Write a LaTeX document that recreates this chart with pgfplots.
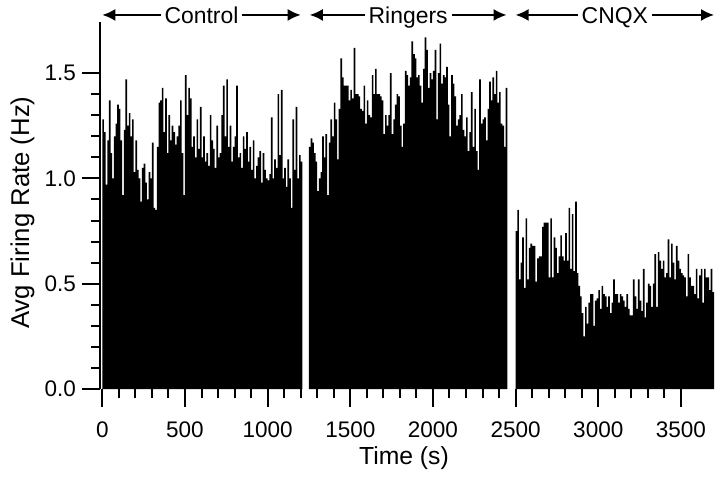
\documentclass[border=0pt]{standalone}
\usepackage{pgfplots}
\pgfplotsset{compat=1.18}
\usepackage{pgfplotstable}
\usepackage{fontspec}
\setmainfont{Liberation Sans}
\usetikzlibrary{arrows.meta}

% average firing rate, 10 s bins
\pgfplotstableread[row sep=\\]{rate\\
1.28\\ 1.22\\ 0.97\\ 1.18\\ 1.37\\ 1.12\\ 1.00\\ 1.20\\ 1.26\\ 1.35\\
1.33\\ 1.18\\ 0.92\\ 1.23\\ 1.47\\ 1.25\\ 1.31\\ 1.20\\ 1.28\\ 1.03\\
1.18\\ 1.04\\ 1.00\\ 0.89\\ 1.05\\ 1.07\\ 0.98\\ 0.90\\ 1.03\\ 1.00\\
1.17\\ 0.86\\ 0.85\\ 1.15\\ 1.36\\ 1.37\\ 1.43\\ 1.22\\ 1.38\\ 1.12\\
1.30\\ 1.18\\ 1.25\\ 1.22\\ 1.16\\ 1.20\\ 1.25\\ 1.37\\ 1.12\\ 0.92\\
1.49\\ 1.30\\ 1.43\\ 1.38\\ 1.15\\ 1.20\\ 1.10\\ 1.28\\ 1.14\\ 1.34\\
1.10\\ 1.20\\ 1.08\\ 1.12\\ 1.06\\ 1.30\\ 1.18\\ 1.14\\ 1.05\\ 1.25\\
1.10\\ 1.12\\ 1.30\\ 1.44\\ 1.20\\ 1.47\\ 1.15\\ 1.25\\ 1.08\\ 1.15\\
1.20\\ 1.44\\ 1.10\\ 1.12\\ 1.05\\ 1.20\\ 1.14\\ 1.22\\ 1.08\\ 1.15\\
1.04\\ 1.18\\ 1.00\\ 1.06\\ 1.10\\ 1.13\\ 0.98\\ 1.12\\ 1.04\\ 1.00\\
0.99\\ 1.02\\ 1.29\\ 1.00\\ 1.09\\ 1.05\\ 1.40\\ 1.11\\ 1.42\\ 1.00\\
1.05\\ 0.96\\ 1.09\\ 1.00\\ 0.86\\ 1.28\\ 1.04\\ 1.34\\ 1.00\\ 1.11\\
1.08\\ 1.08\\
}\control

\pgfplotstableread[row sep=\\]{rate\\
1.15\\ 1.19\\ 1.17\\ 1.12\\ 1.08\\ 0.94\\ 1.00\\ 1.03\\ 1.20\\ 1.10\\
1.21\\ 0.92\\ 1.17\\ 1.28\\ 1.20\\ 1.36\\ 1.28\\ 1.09\\ 1.33\\ 1.57\\
1.48\\ 1.44\\ 1.44\\ 1.44\\ 1.37\\ 1.42\\ 1.38\\ 1.62\\ 1.40\\ 1.40\\
1.39\\ 1.33\\ 1.32\\ 1.44\\ 1.26\\ 1.37\\ 1.30\\ 1.29\\ 1.49\\ 1.40\\
1.52\\ 1.40\\ 1.40\\ 1.39\\ 1.37\\ 1.21\\ 1.30\\ 1.25\\ 1.30\\ 1.50\\
1.21\\ 1.28\\ 1.35\\ 1.40\\ 1.39\\ 1.25\\ 1.15\\ 1.26\\ 1.51\\ 1.49\\
1.44\\ 1.48\\ 1.65\\ 1.59\\ 1.57\\ 1.48\\ 1.49\\ 1.44\\ 1.36\\ 1.52\\
1.67\\ 1.61\\ 1.43\\ 1.50\\ 1.47\\ 1.51\\ 1.61\\ 1.28\\ 1.50\\ 1.64\\
1.45\\ 1.49\\ 1.48\\ 1.53\\ 1.35\\ 1.20\\ 1.49\\ 1.45\\ 1.39\\ 1.25\\
1.28\\ 1.30\\ 1.40\\ 1.23\\ 1.20\\ 1.29\\ 1.13\\ 1.22\\ 1.41\\ 1.15\\
1.33\\ 1.13\\ 1.04\\ 1.47\\ 1.26\\ 1.28\\ 1.29\\ 1.18\\ 1.33\\ 1.46\\
1.37\\ 1.48\\ 1.40\\ 1.51\\ 1.36\\ 1.41\\ 1.26\\ 1.25\\ 1.15\\ 1.43\\
1.43\\
}\ringers

\pgfplotstableread[row sep=\\]{rate\\
0.75\\ 0.85\\ 0.52\\ 0.60\\ 0.72\\ 0.48\\ 0.81\\ 0.52\\ 0.67\\ 0.69\\
0.68\\ 0.68\\ 0.51\\ 0.62\\ 0.63\\ 0.63\\ 0.77\\ 0.79\\ 0.79\\ 0.79\\
0.53\\ 0.81\\ 0.53\\ 0.72\\ 0.67\\ 0.55\\ 0.63\\ 0.73\\ 0.63\\ 0.61\\
0.74\\ 0.61\\ 0.86\\ 0.57\\ 0.83\\ 0.56\\ 0.89\\ 0.55\\ 0.49\\ 0.44\\
0.36\\ 0.25\\ 0.39\\ 0.31\\ 0.41\\ 0.45\\ 0.45\\ 0.30\\ 0.42\\ 0.43\\
0.47\\ 0.38\\ 0.49\\ 0.45\\ 0.44\\ 0.39\\ 0.44\\ 0.36\\ 0.41\\ 0.52\\
0.45\\ 0.45\\ 0.41\\ 0.45\\ 0.44\\ 0.42\\ 0.39\\ 0.45\\ 0.38\\ 0.35\\
0.35\\ 0.52\\ 0.44\\ 0.38\\ 0.52\\ 0.42\\ 0.37\\ 0.57\\ 0.34\\ 0.41\\
0.50\\ 0.49\\ 0.39\\ 0.50\\ 0.64\\ 0.39\\ 0.65\\ 0.61\\ 0.57\\ 0.61\\
0.53\\ 0.55\\ 0.71\\ 0.53\\ 0.69\\ 0.60\\ 0.52\\ 0.68\\ 0.61\\ 0.57\\
0.55\\ 0.54\\ 0.53\\ 0.44\\ 0.64\\ 0.53\\ 0.49\\ 0.49\\ 0.45\\ 0.57\\
0.43\\ 0.54\\ 0.57\\ 0.41\\ 0.57\\ 0.53\\ 0.53\\ 0.47\\ 0.57\\ 0.46\\
0.46\\
}\cnqx

\begin{document}
\begin{tikzpicture}
\useasboundingbox (-50bp,-45bp) rectangle (310bp,194.5bp);
\begin{axis}[
  at={(0,0)}, anchor=south west,
  scale only axis,
  width=307bp, height=183.65bp,
  xmin=-14, xmax=3700, ymin=0, ymax=1.744,
  axis x line*=bottom, axis y line*=left,
  x axis line style={draw=none},
  y axis line style={line width=1bp},
  xtick={0,500,1000,1500,2000,2500,3000,3500},
  xticklabels={0,500,1000,1500,2000,2500,3000,3500},
  minor x tick num=4,
  ytick={0,0.5,1,1.5},
  yticklabels={0.0,0.5,1.0,1.5},
  minor y tick num=4,
  tick align=outside,
  major tick length=9bp, minor tick length=4.5bp,
  every tick/.style={black, line width=1bp},
  tick label style={font=\fontsize{11.3}{13}\selectfont},
  xticklabel style={yshift=-4bp},
  yticklabel style={xshift=0.5bp},
  /pgf/number format/assume math mode=true,
  xlabel={Time (s)}, ylabel={Avg Firing Rate (Hz)},
  every axis x label/.style={at={(axis description cs:0.495,0)}, anchor=base, yshift=-37.5bp, font=\fontsize{12.4}{14}\selectfont},
  every axis y label/.style={at={(axis description cs:-0.1156,0.48)}, rotate=90, anchor=base, font=\fontsize{12.9}{15}\selectfont},
  clip=false,
]
\addplot[fill=black, draw=none, const plot] table[x expr=\coordindex*10, y=rate] {\control} \closedcycle;
\addplot[fill=black, draw=none, const plot] table[x expr=1250+\coordindex*10, y=rate] {\ringers} \closedcycle;
\addplot[fill=black, draw=none, const plot] table[x expr=2500+\coordindex*10, y=rate] {\cnqx} \closedcycle;

\tikzset{seg/.style={{Latex[length=6.5bp,width=6bp]}-{Latex[length=6.5bp,width=6bp]}, line width=0.9bp},
  lab/.style={fill=white, inner xsep=2bp, inner ysep=1bp, anchor=base, yshift=-4.3bp, font=\fontsize{11.5}{13}\selectfont}}
\draw[seg] (axis cs:0,1.776) -- (axis cs:1200,1.776) node[midway, lab] {Control};
\draw[seg] (axis cs:1255,1.776) -- (axis cs:2445,1.776) node[midway, lab] {Ringers};
\draw[seg] (axis cs:2500,1.776) -- (axis cs:3700,1.776) node[midway, lab] {CNQX};
\end{axis}
\end{tikzpicture}
\end{document}
